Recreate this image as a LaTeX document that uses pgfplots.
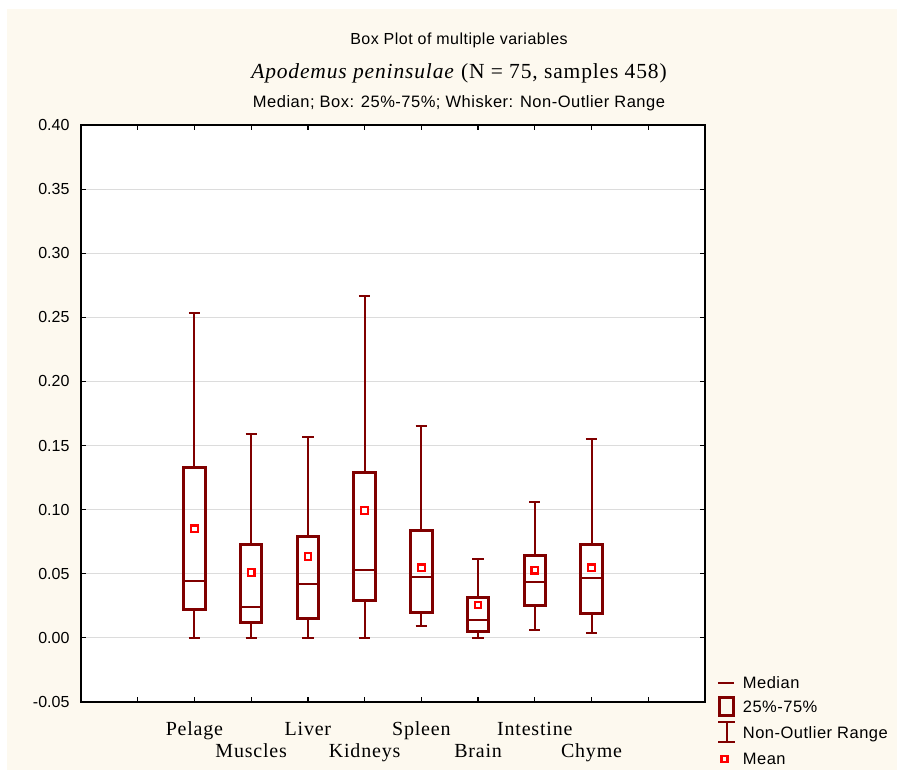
\documentclass[border=0pt]{standalone}
\usepackage{pgfplots}
\pgfplotsset{compat=1.18}
\usepgfplotslibrary{statistics}
\usepackage{fontspec}
\setmainfont{Liberation Sans}
\newfontfamily\timesf[LetterSpace=4]{Liberation Serif}
\newfontfamily\sansls[LetterSpace=3]{Liberation Sans}
\definecolor{boxred}{RGB}{128,0,0}
\definecolor{meanred}{RGB}{255,0,0}
\definecolor{cream}{RGB}{253,249,239}
\definecolor{gridgray}{RGB}{220,220,220}
\begin{document}
\begin{tikzpicture}
\fill[white] (0pt,0pt) rectangle (897pt,770pt);
\fill[cream] (7pt,0pt) rectangle (897pt,761pt);
\begin{axis}[
  at={(81pt,68pt)}, anchor=south west,
  scale only axis, width=624pt, height=577pt,
  xmin=-2, xmax=9, ymin=-0.05, ymax=0.40,
  axis background/.style={fill=white},
  axis line style={line width=1.5pt, black},
  xtick={-1,0,1,2,3,4,5,6,7,8},
  xticklabels={,{\strut Pelage\\\strut},{\strut\\\strut Muscles},{\strut Liver\\\strut},{\strut\\\strut Kidneys},{\strut Spleen\\\strut},{\strut\\\strut Brain},{\strut Intestine\\\strut},{\strut\\\strut Chyme},},
  xticklabel style={font=\timesf\fontsize{20}{22}\selectfont, align=center, yshift=-15pt},
  ytick={-0.05,0,0.05,0.1,0.15,0.2,0.25,0.3,0.35,0.4},
  yticklabel style={font=\fontsize{16}{18}\selectfont, xshift=-8pt, /pgf/number format/fixed, /pgf/number format/fixed zerofill, /pgf/number format/precision=2, /pgf/number format/assume math mode=true},
  tick align=inside, major tick length=5pt,
  tick style={black, line width=1.2pt},
  ymajorgrids, grid style={gridgray, line width=0.8pt},
  boxplot/draw direction=y,
  boxplot/box extend=0.38,
  boxplot/whisker extend=0.2,
  boxplot/every box/.style={draw=boxred, line width=3pt},
  boxplot/every whisker/.style={draw=boxred, line width=2pt},
  boxplot/every median/.style={draw=boxred, line width=2pt},
  legend style={at={(1.019,0.06)}, anchor=north west, draw=none, fill=none,
    font=\sansls\fontsize{16.5}{18}\selectfont, row sep=0pt, column sep=6pt, inner sep=0pt,
    nodes={inner sep=1pt}},
  legend cell align=left,
]
\addplot[boxred, forget plot, boxplot prepared={lower whisker=0, lower quartile=0.0224, median=0.0445, upper quartile=0.133, upper whisker=0.253, draw position=0}] coordinates {};
\addplot[boxred, forget plot, boxplot prepared={lower whisker=0, lower quartile=0.0117, median=0.0244, upper quartile=0.073, upper whisker=0.159, draw position=1}] coordinates {};
\addplot[boxred, forget plot, boxplot prepared={lower whisker=0, lower quartile=0.015, median=0.042, upper quartile=0.0793, upper whisker=0.157, draw position=2}] coordinates {};
\addplot[boxred, forget plot, boxplot prepared={lower whisker=0, lower quartile=0.029, median=0.0533, upper quartile=0.129, upper whisker=0.267, draw position=3}] coordinates {};
\addplot[boxred, forget plot, boxplot prepared={lower whisker=0.0096, lower quartile=0.0198, median=0.0478, upper quartile=0.0835, upper whisker=0.165, draw position=4}] coordinates {};
\addplot[boxred, forget plot, boxplot prepared={lower whisker=0, lower quartile=0.0049, median=0.014, upper quartile=0.0312, upper whisker=0.0616, draw position=5}] coordinates {};
\addplot[boxred, forget plot, boxplot prepared={lower whisker=0.0062, lower quartile=0.0255, median=0.0434, upper quartile=0.0645, upper whisker=0.106, draw position=6}] coordinates {};
\addplot[boxred, forget plot, boxplot prepared={lower whisker=0.0037, lower quartile=0.0187, median=0.047, upper quartile=0.0731, upper whisker=0.155, draw position=7}] coordinates {};
\addplot[only marks, forget plot, mark=square*, mark size=3.3pt, mark options={draw=meanred, fill=white, line width=2.2pt}] coordinates {
(0,0.085) (1,0.051) (2,0.0634) (3,0.0993) (4,0.0546) (5,0.0257) (6,0.0528) (7,0.0546)};
\addlegendimage{legend image code/.code={\path[draw=none,fill=none] (0pt,-4pt) rectangle (17pt,16pt); \draw[boxred, line width=1.8pt] (0pt,0.5pt) -- (16pt,0.5pt);}}
\addlegendentry{Median}
\addlegendimage{legend image code/.code={\path[draw=none,fill=none] (0pt,-4pt) rectangle (17pt,16pt); \draw[boxred, line width=3pt] (1.5pt,-8pt) rectangle (16pt,9.5pt);}}
\addlegendentry{25\%-75\%}
\addlegendimage{legend image code/.code={\path[draw=none,fill=none] (0pt,-4pt) rectangle (17pt,16pt); \draw[boxred, line width=1.8pt] (0.5pt,-9.5pt) -- (17pt,-9.5pt) (8.75pt,-9.5pt) -- (8.75pt,10.5pt) (0.5pt,10.5pt) -- (17pt,10.5pt);}}
\addlegendentry{Non-Outlier Range}
\addlegendimage{legend image code/.code={\path[draw=none,fill=none] (0pt,-4pt) rectangle (17pt,16pt); \draw[meanred, line width=2.2pt] (3.5pt,-2.5pt) rectangle (9.5pt,3.5pt);}}
\addlegendentry{Mean}
\end{axis}
\node[font=\sansls\fontsize{16}{18}\selectfont] at (459pt,730pt) {Box Plot of multiple variables};
\node[font=\timesf\fontsize{21.5}{24}\selectfont] at (459pt,697pt) {\textit{Apodemus peninsulae} (N = 75, samples 458)};
\node[font=\sansls\fontsize{16.5}{18}\selectfont] at (459pt,667pt) {Median; Box: 25\%-75\%; Whisker: Non-Outlier Range};
\end{tikzpicture}
\end{document}
